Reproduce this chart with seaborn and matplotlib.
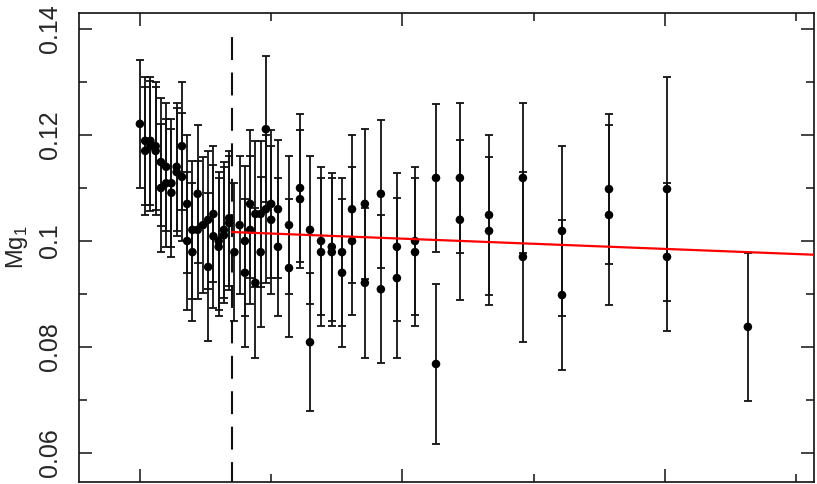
import numpy as np
import matplotlib
matplotlib.use("Agg")
import matplotlib.pyplot as plt
import seaborn as sns

# radial position of each index measurement (arbitrary units, major tick every 10)
radius = [0.0, 0.2, 0.2, 0.4, 0.4, 0.6, 0.6, 0.8, 0.8, 1.0, 1.0,
          1.2, 1.2, 1.4, 1.4, 1.6, 1.6, 1.8, 1.8, 2.0, 2.0,
          2.2, 2.2, 2.4, 2.6, 2.6, 2.8, 2.8, 3.0, 3.0, 3.2, 3.2,
          3.4, 3.4, 3.6, 3.8, 4.0, 4.0, 4.2, 4.2, 4.4, 4.4,
          4.6, 4.6, 4.8, 4.8, 5.0, 5.0, 5.26, 5.26, 5.68, 5.68,
          6.10, 6.10, 6.48, 6.48, 6.90, 6.90, 7.31, 7.31, 7.70, 7.70,
          8.08, 8.08, 8.57, 8.57, 9.18, 9.18, 9.79, 9.79, 10.48, 10.48,
          11.28, 11.28, 12.19, 12.19, 13.30, 13.30, 14.59, 14.59,
          16.08, 16.08, 17.87, 17.87, 20.08, 20.08, 23.16]

mg1 = [0.1221, 0.1189, 0.1170, 0.1189, 0.1179, 0.1179, 0.1170, 0.1149, 0.1100, 0.1140, 0.1109,
       0.1109, 0.1091, 0.1140, 0.1130, 0.1179, 0.1121, 0.1070, 0.1000, 0.1021, 0.0979,
       0.1089, 0.1021, 0.1030, 0.1040, 0.0951, 0.1051, 0.1009, 0.1000, 0.0989, 0.1021, 0.1011,
       0.1043, 0.1034, 0.0979, 0.1030, 0.1000, 0.0940, 0.1070, 0.1021, 0.1051, 0.0921,
       0.1051, 0.0979, 0.1211, 0.1060, 0.1070, 0.1040, 0.1060, 0.0989, 0.1030, 0.0949,
       0.1100, 0.1079, 0.1021, 0.0809, 0.1000, 0.0979, 0.0989, 0.0979, 0.0979, 0.0940,
       0.1060, 0.1000, 0.1070, 0.0921, 0.1089, 0.0909, 0.0989, 0.0930, 0.1000, 0.0979,
       0.1119, 0.0768, 0.1119, 0.1040, 0.1049, 0.1019, 0.1119, 0.0970,
       0.1019, 0.0898, 0.1098, 0.1049, 0.1098, 0.0970, 0.0838]

mg1_err = [0.0121, 0.0121, 0.0121, 0.0121, 0.0123, 0.0121, 0.0121, 0.0121, 0.0121, 0.0121, 0.0121,
           0.0121, 0.0121, 0.0121, 0.0121, 0.0121, 0.0121, 0.0130, 0.0130, 0.0130, 0.0130,
           0.0130, 0.0130, 0.0128, 0.0130, 0.0140, 0.0128, 0.0135, 0.0130, 0.0130, 0.0128, 0.0128,
           0.0127, 0.0127, 0.0130, 0.0130, 0.0141, 0.0140, 0.0140, 0.0140, 0.0138, 0.0142,
           0.0138, 0.0142, 0.0138, 0.0140, 0.0140, 0.0140, 0.0130, 0.0130, 0.0130, 0.0130,
           0.0140, 0.0130, 0.0140, 0.0130, 0.0140, 0.0140, 0.0140, 0.0140, 0.0140, 0.0140,
           0.0140, 0.0140, 0.0142, 0.0142, 0.0140, 0.0140, 0.0140, 0.0151, 0.0140, 0.0140,
           0.0140, 0.0151, 0.0142, 0.0151, 0.0151, 0.0140, 0.0142, 0.0160,
           0.0160, 0.0142, 0.0142, 0.0170, 0.0211, 0.0140, 0.0140]

# linear fit outside the break radius
break_radius = 3.5
fit_x = [3.5, 26.0]
fit_y = [0.1017, 0.09735]

yticks = [0.06, 0.08, 0.1, 0.12, 0.14]
ytick_labels = ["0.06", "0.08", "0.1", "0.12", "0.14"]

sns.set_theme(style="ticks")
plt.rcParams['font.family'] = ['Liberation Sans', 'DejaVu Sans']
plt.rcParams['mathtext.fontset'] = 'custom'
plt.rcParams['mathtext.rm'] = 'Liberation Sans'

fig = plt.figure(figsize=(8.17, 4.84), dpi=100)
ax = fig.add_axes([79 / 817, 2 / 484, 735 / 817, 469 / 484])

ax.errorbar(radius, mg1, yerr=mg1_err, fmt='none', ecolor='#111111',
            elinewidth=1.3, capsize=2.6, capthick=1.3, zorder=2)
sns.scatterplot(x=radius, y=mg1, color='black', s=38, edgecolor='none', ax=ax, zorder=3)
sns.lineplot(x=fit_x, y=fit_y, color='red', lw=1.6, ax=ax, zorder=4)
ax.plot([break_radius, break_radius], [0.05, 0.14], color='#111111', lw=1.5,
        ls=(0, (11, 6)), zorder=1)

ax.set_xlim(-2.32, 25.68)
ax.set_ylim(0.05453, 0.14302)
ax.set_xticks([0, 10, 20])
ax.set_xticks([5, 15, 25], minor=True)
ax.set_yticks(yticks)
ax.set_yticklabels(ytick_labels, rotation=90, va='center', fontsize=18)
ax.set_yticks([0.07, 0.09, 0.11, 0.13], minor=True)
ax.tick_params(which='both', direction='in', top=True, right=True,
               labelbottom=False, width=1.1, color='#111111')
ax.tick_params(which='major', length=9.5, pad=12)
ax.tick_params(which='minor', length=5.5)
for s in ax.spines.values():
    s.set_linewidth(1.2)
    s.set_color('#111111')

ax.set_xlabel("")
ax.set_ylabel(r"$\mathrm{Mg}_1$", fontsize=17, labelpad=6)

fig.savefig("out.png", dpi=100)
